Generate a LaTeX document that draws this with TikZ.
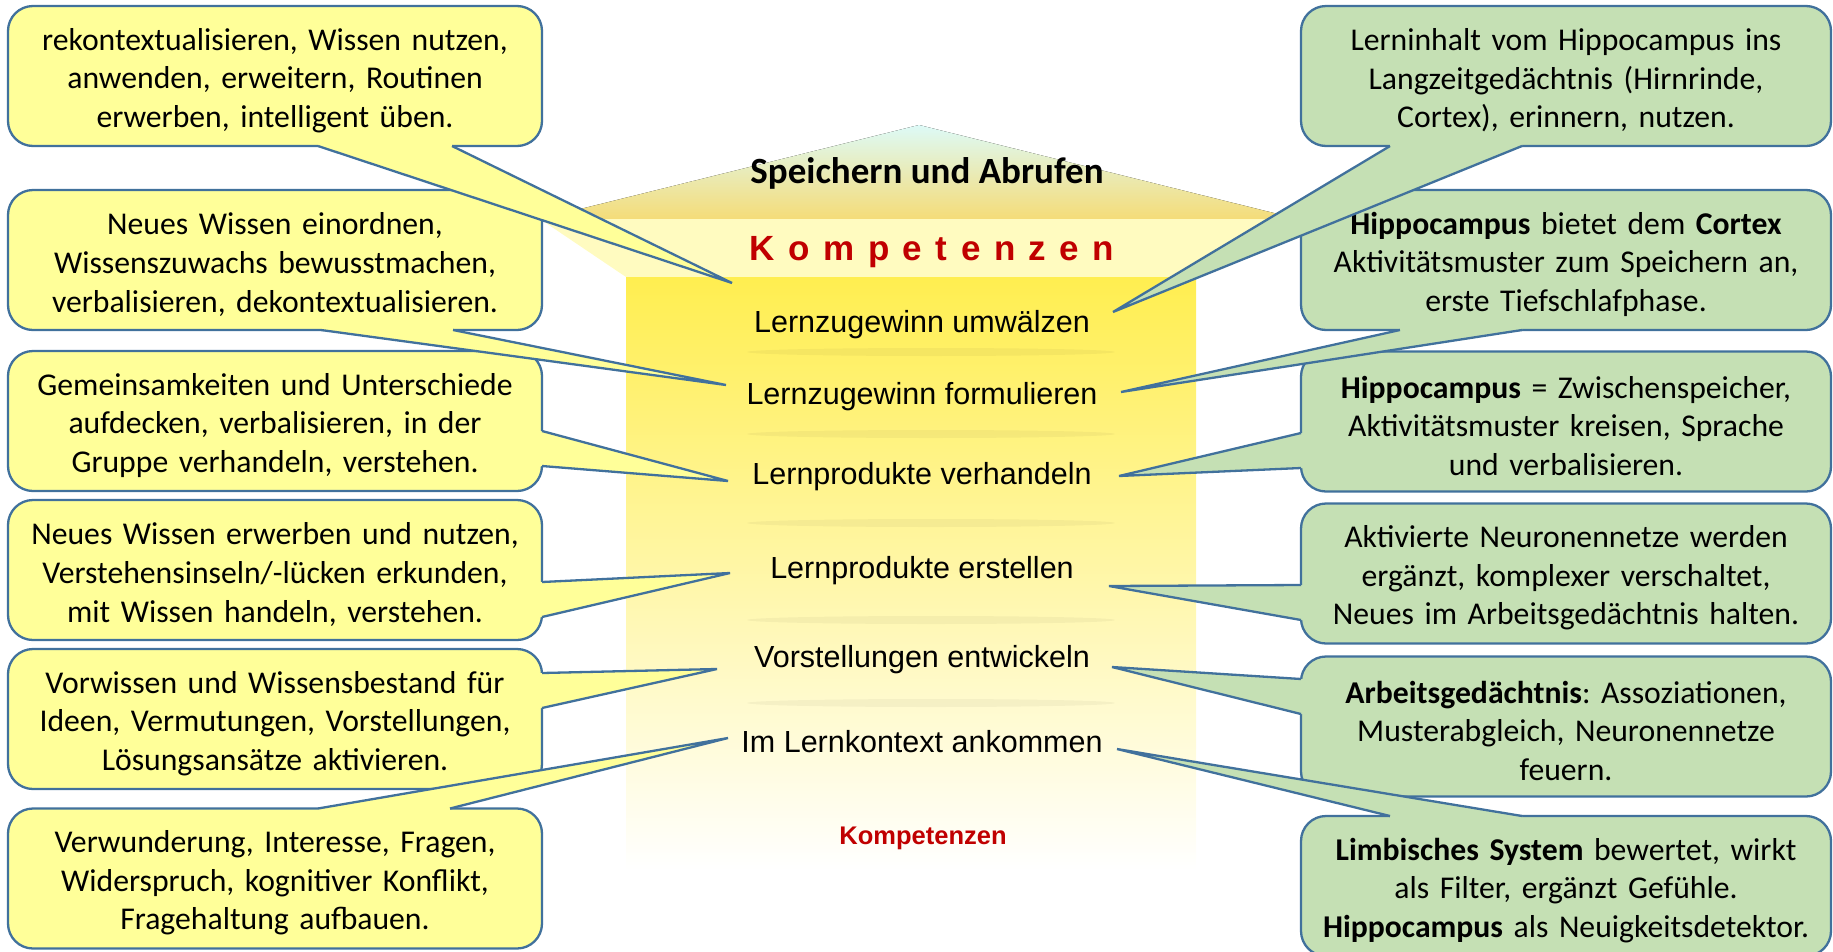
\documentclass[tikz,border=0pt]{standalone}
\usepackage{fontspec}
\setmainfont{Carlito}
\newfontfamily\arialfont{Liberation Sans}
\usepackage{xcolor}
\usepackage{tikz}
\usetikzlibrary{calc, positioning}
\definecolor{calloutyellow}{HTML}{FFFF99}
\definecolor{calloutgreen}{HTML}{C5E0B4}
\definecolor{calloutline}{HTML}{41719C}
\definecolor{kompred}{HTML}{C00000}
\definecolor{roofcyan}{HTML}{DDFAF7}
\definecolor{roofgold}{HTML}{F5DC78}
\definecolor{bandyellow}{HTML}{FFFBC0}
\definecolor{columntop}{HTML}{FFEE50}
\definecolor{columnmid}{HTML}{FFF8C4}
\frenchspacing
\tikzset{
	box/.style={
		draw=calloutline,
		line width=2.3pt,
		rounded corners=25pt,
		minimum height=140pt,
		inner xsep=7pt,
		inner ysep=0pt,
		outer sep=0pt,
		align=center,
		font=\fontsize{31.7pt}{38.6pt}\selectfont,
		execute at begin node={\rule{0pt}{31pt}}
	},
	lbox/.style={box, fill=calloutyellow, text width=520pt},
	rbox/.style={box, fill=calloutgreen, text width=516pt},
	lfill/.style={fill=calloutyellow},
	rfill/.style={fill=calloutgreen},
	tail/.style={draw=calloutline, line width=2.3pt},
	stage/.style={
		inner sep=0pt,
		font=\arialfont\fontsize{30.5pt}{36pt}\selectfont
	},
	shadowline/.style={fill=black, opacity=0.04}
}

\begin{document}
\begin{tikzpicture}[x=1pt, y=-1pt]
	\useasboundingbox (0,0) rectangle (1833,951);

	% column with roof
	\fill[top color=roofcyan, bottom color=roofgold] (919,125) -- (1298,219) -- (540,219) -- cycle;
	\fill[bandyellow] (540,219) -- (1298,219) -- (1196,277) -- (626,277) -- cycle;
	\fill[top color=columntop, middle color=columnmid, bottom color=white] (626,277) rectangle (1196,870);
	\fill[shadowline] (931,352) ellipse [x radius=184, y radius=4];
	\fill[shadowline] (931,434) ellipse [x radius=184, y radius=4];
	\fill[shadowline] (931,523) ellipse [x radius=184, y radius=4];
	\fill[shadowline] (931,620) ellipse [x radius=184, y radius=4];
	\fill[shadowline] (931,703) ellipse [x radius=184, y radius=4];

	\node[font=\bfseries\fontsize{37pt}{44pt}\selectfont] (title) at (927,173.5) {Speichern und Abrufen};
	\node[font=\arialfont\bfseries\fontsize{35pt}{42pt}\selectfont, text=kompred] (komp) at (932,252.5) {\spaceskip=13.5pt K o m p e t e n z e n};
	\node[stage] (s6) at (922,324.5) {Lernzugewinn umwälzen};
	\node[stage] (s5) at (922,396.5) {Lernzugewinn formulieren};
	\node[stage] (s4) at (922,476.5) {Lernprodukte verhandeln};
	\node[stage] (s3) at (922,570.5) {Lernprodukte erstellen};
	\node[stage] (s2) at (922,659.5) {Vorstellungen entwickeln};
	\node[stage] (s1) at (922,742) {Im Lernkontext ankommen};
	\node[font=\arialfont\bfseries\fontsize{25.5pt}{30pt}\selectfont, text=kompred] (kompsmall) at (923,838.5) {Kompetenzen};

	% callouts left
	\node[lbox] (l1) at (275,76) {rekontextualisieren, Wissen nutzen,\\anwenden, erweitern, Routinen\\erwerben, intelligent üben.};
	\node[lbox] (l2) at (275,260) {Neues Wissen einordnen,\\Wissenszuwachs bewusstmachen,\\verbalisieren, dekontextualisieren.};
	\node[lbox] (l3) at (275,421) {Gemeinsamkeiten und Unterschiede\\aufdecken, verbalisieren, in der\\Gruppe verhandeln, verstehen.};
	\node[lbox] (l4) at (275,570) {Neues Wissen erwerben und nutzen,\\Verstehensinseln/-lücken erkunden,\\mit Wissen handeln, verstehen.};
	\node[lbox] (l5) at (275,719) {Vorwissen und Wissensbestand für\\Ideen, Vermutungen, Vorstellungen,\\Lösungsansätze aktivieren.};
	\node[lbox] (l6) at (275,878.5) {Verwunderung, Interesse, Fragen,\\Widerspruch, kognitiver Konflikt,\\Fragehaltung aufbauen.};

	% callouts right
	\node[rbox] (r1) at (1566,76) {Lerninhalt vom Hippocampus ins\\Langzeitgedächtnis (Hirnrinde,\\Cortex), erinnern, nutzen.};
	\node[rbox] (r2) at (1566,260) {\textbf{Hippocampus} bietet dem \textbf{Cortex}\\Aktivitätsmuster zum Speichern an,\\erste Tiefschlafphase.};
	\node[rbox] (r3) at (1566,421.5) {\textbf{Hippocampus} = Zwischenspeicher,\\Aktivitätsmuster kreisen, Sprache\\und verbalisieren.};
	\node[rbox] (r4) at (1566,573.5) {Aktivierte Neuronennetze werden\\ergänzt, komplexer verschaltet,\\Neues im Arbeitsgedächtnis halten.};
	\node[rbox] (r5) at (1566,726.5) {\textbf{Arbeitsgedächtnis}: Assoziationen,\\Musterabgleich, Neuronennetze\\feuern.};
	\node[rbox] (r6) at (1566,886) {\textbf{Limbisches System} bewertet, wirkt\\als Filter, ergänzt Gefühle.\\\textbf{Hippocampus} als Neuigkeitsdetektor.};

	% tips of the pointers
	\coordinate (tl1) at (732,283);
	\coordinate (tl2) at (726,385);
	\coordinate (tl3) at (728,481);
	\coordinate (tl4) at (730,573);
	\coordinate (tl5) at (717,669);
	\coordinate (tl6) at (728,738);
	\coordinate (tr1) at (1113,312);
	\coordinate (tr2) at (1121,392);
	\coordinate (tr3) at (1119,476);
	\coordinate (tr4) at (1109,586);
	\coordinate (tr5) at (1112,667);
	\coordinate (tr6) at (1117,749);

	% pointers left
	\fill[lfill] ($(l1.south west)+(310,-3)$) -- ($(l1.south west)+(310,0)$) -- (tl1) -- ($(l1.south west)+(444,0)$) -- ($(l1.south west)+(444,-3)$) -- cycle;
	\draw[tail] ($(l1.south west)+(310,0)$) -- (tl1) -- ($(l1.south west)+(444,0)$);
	\fill[lfill] ($(l2.south west)+(313,-3)$) -- ($(l2.south west)+(313,0)$) -- (tl2) -- ($(l2.south west)+(445,0)$) -- ($(l2.south west)+(445,-3)$) -- cycle;
	\draw[tail] ($(l2.south west)+(313,0)$) -- (tl2) -- ($(l2.south west)+(445,0)$);
	\fill[lfill] ($(l3.north east)+(-3,80)$) -- ($(l3.north east)+(0,80)$) -- (tl3) -- ($(l3.north east)+(0,115)$) -- ($(l3.north east)+(-3,115)$) -- cycle;
	\draw[tail] ($(l3.north east)+(0,80)$) -- (tl3) -- ($(l3.north east)+(0,115)$);
	\fill[lfill] ($(l4.north east)+(-3,82)$) -- ($(l4.north east)+(0,82)$) -- (tl4) -- ($(l4.north east)+(0,117)$) -- ($(l4.north east)+(-3,117)$) -- cycle;
	\draw[tail] ($(l4.north east)+(0,82)$) -- (tl4) -- ($(l4.north east)+(0,117)$);
	\fill[lfill] ($(l5.north east)+(-3,24)$) -- ($(l5.north east)+(0,24)$) -- (tl5) -- ($(l5.north east)+(0,59)$) -- ($(l5.north east)+(-3,59)$) -- cycle;
	\draw[tail] ($(l5.north east)+(0,24)$) -- (tl5) -- ($(l5.north east)+(0,59)$);
	\fill[lfill] ($(l6.north west)+(310,3)$) -- ($(l6.north west)+(310,0)$) -- (tl6) -- ($(l6.north west)+(442,0)$) -- ($(l6.north west)+(442,3)$) -- cycle;
	\draw[tail] ($(l6.north west)+(310,0)$) -- (tl6) -- ($(l6.north west)+(442,0)$);

	% pointers right
	\fill[rfill] ($(r1.south west)+(89,-3)$) -- ($(r1.south west)+(89,0)$) -- (tr1) -- ($(r1.south west)+(221,0)$) -- ($(r1.south west)+(221,-3)$) -- cycle;
	\draw[tail] ($(r1.south west)+(89,0)$) -- (tr1) -- ($(r1.south west)+(221,0)$);
	\fill[rfill] ($(r2.south west)+(99,-3)$) -- ($(r2.south west)+(99,0)$) -- (tr2) -- ($(r2.south west)+(221,0)$) -- ($(r2.south west)+(221,-3)$) -- cycle;
	\draw[tail] ($(r2.south west)+(99,0)$) -- (tr2) -- ($(r2.south west)+(221,0)$);
	\fill[rfill] ($(r3.north west)+(3,81.5)$) -- ($(r3.north west)+(0,81.5)$) -- (tr3) -- ($(r3.north west)+(0,116.5)$) -- ($(r3.north west)+(3,116.5)$) -- cycle;
	\draw[tail] ($(r3.north west)+(0,81.5)$) -- (tr3) -- ($(r3.north west)+(0,116.5)$);
	\fill[rfill] ($(r4.north west)+(3,81.5)$) -- ($(r4.north west)+(0,81.5)$) -- (tr4) -- ($(r4.north west)+(0,116.5)$) -- ($(r4.north west)+(3,116.5)$) -- cycle;
	\draw[tail] ($(r4.north west)+(0,81.5)$) -- (tr4) -- ($(r4.north west)+(0,116.5)$);
	\fill[rfill] ($(r5.north west)+(3,22.5)$) -- ($(r5.north west)+(0,22.5)$) -- (tr5) -- ($(r5.north west)+(0,57.5)$) -- ($(r5.north west)+(3,57.5)$) -- cycle;
	\draw[tail] ($(r5.north west)+(0,22.5)$) -- (tr5) -- ($(r5.north west)+(0,57.5)$);
	\fill[rfill] ($(r6.north west)+(89,3)$) -- ($(r6.north west)+(89,0)$) -- (tr6) -- ($(r6.north west)+(221,0)$) -- ($(r6.north west)+(221,3)$) -- cycle;
	\draw[tail] ($(r6.north west)+(89,0)$) -- (tr6) -- ($(r6.north west)+(221,0)$);
\end{tikzpicture}
\end{document}
